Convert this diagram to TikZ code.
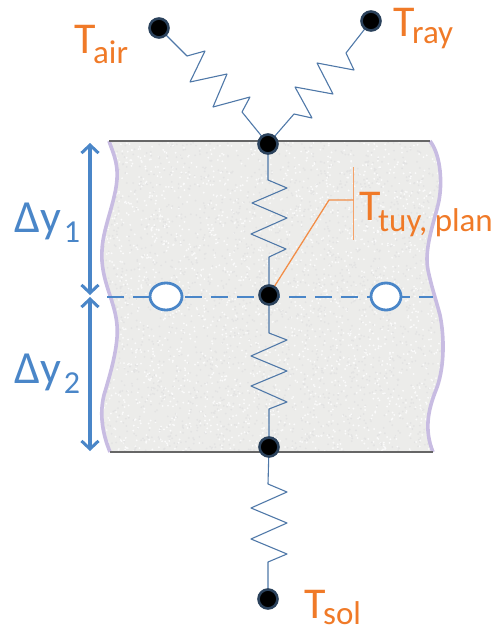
\documentclass[tikz,border=0pt]{standalone}
\usepackage{fontspec}
\setmainfont{Carlito}
\usetikzlibrary{arrows.meta,shapes.geometric}
\definecolor{orng}{HTML}{F07A28}
\definecolor{blu}{HTML}{4A86C8}
\definecolor{spr}{HTML}{4F78A8}
\definecolor{blockfill}{HTML}{ECECEA}
\definecolor{edgelav}{HTML}{C8BCE2}
\newcommand{\tsubm}[2]{\fontsize{44}{44}\selectfont T\kern-2.5pt\raisebox{-#1pt}{\fontsize{33}{33}\selectfont #2}}
\tikzset{
  nodedot/.style={circle,fill=black,draw=spr!55!black,line width=2.6pt,minimum size=19pt,inner sep=0pt},
  spring/.style={draw=spr,line width=1.1pt,line join=round},
  openpt/.style={ellipse,draw=blu,fill=white,line width=2.8pt,inner sep=0pt},
  lab/.style={anchor=base west,inner sep=0pt,text=orng},
  dlab/.style={anchor=base west,inner sep=0pt,text=blu},
  dimarrow/.style={draw=blu,line width=3.2pt,-{Straight Barb[length=8pt,width=17pt,line width=3pt]}}
}
\begin{document}
\begin{tikzpicture}[x=1pt,y=-1pt]
\useasboundingbox (0,0) rectangle (495,632);
\pgfmathsetseed{42}
\def\blockpath{(109,141) -- (430,141) .. controls (441,155) and (443,185) .. (438,205) .. controls (433,225) and (424,250) .. (428,270) .. controls (431,285) and (436,300) .. (440,315) .. controls (445,340) and (444,370) .. (436,390) .. controls (428,410) and (424,430) .. (433,452) -- (110,452) .. controls (103,435) and (99,415) .. (104,395) .. controls (110,375) and (119,345) .. (117,325) .. controls (115,300) and (100,280) .. (102,250) .. controls (103,225) and (119,195) .. (117,170) .. controls (116,158) and (112,150) .. (109,141) -- cycle}
\fill[blockfill] \blockpath;
\begin{scope}
\clip \blockpath;
\foreach \i in {1,...,4500}{
  \pgfmathsetmacro{\px}{95+rnd*355}
  \pgfmathsetmacro{\py}{141+rnd*311}
  \pgfmathsetmacro{\sh}{int(rnd*2)}
  \ifnum\sh=0
    \fill[black!11] (\px,\py) circle[radius=1pt];
  \else
    \fill[white!80!blockfill] (\px,\py) circle[radius=1pt];
  \fi
}
\end{scope}
\draw[edgelav,line width=3.6pt] (430,141) .. controls (441,155) and (443,185) .. (438,205) .. controls (433,225) and (424,250) .. (428,270) .. controls (431,285) and (436,300) .. (440,315) .. controls (445,340) and (444,370) .. (436,390) .. controls (428,410) and (424,430) .. (433,452);
\draw[edgelav,line width=3.6pt] (110,452) .. controls (103,435) and (99,415) .. (104,395) .. controls (110,375) and (119,345) .. (117,325) .. controls (115,300) and (100,280) .. (102,250) .. controls (103,225) and (119,195) .. (117,170) .. controls (116,158) and (112,150) .. (109,141);
\draw[black!60,line width=2pt] (109,141) -- (430,141);
\draw[black!60,line width=2pt] (110,452) -- (433,452);
% dashed mid-plane
\coordinate (dl) at (107,296.5);
\coordinate (dr) at (433,296.5);
\draw[blu,line width=2pt,dash pattern=on 17pt off 9pt] (dl) -- (dr);
\node[openpt,minimum width=32pt,minimum height=27pt] (cl) at (166,296.5) {};
\node[openpt,minimum width=30pt,minimum height=27pt] (cr) at (386,296.5) {};
% nodes
\coordinate (air) at (159,28);
\coordinate (ray) at (371,21);
\coordinate (top) at (268,144);
\coordinate (mid) at (269,295);
\coordinate (bot) at (269,447);
\coordinate (sol) at (268,599);
% orange pointer
\coordinate (ob) at (353.5,167);
\coordinate (oe) at (353.5,240);
\coordinate (oj) at (353.5,200);
\draw[orng!70!white,line width=1.8pt] (ob) -- (oe);
\draw[orng!85!white,line width=1.3pt] (oj) -- (329,200) -- (mid);
% springs
\draw[spring] (air) -- (187,56) -- (205,51) -- (190,82) -- (227,74) -- (213,107) -- (250,97) -- (242,112) -- (top);
\draw[spring] (ray) -- (346,53) -- (354,70) -- (317,63) -- (333,94) -- (295,87) -- (312,118) -- (294,114) -- (top);
\draw[spring] (top) -- (268,180) -- (287,188) -- (252,203) -- (287,218) -- (251,234) -- (286,249) -- (269,257) -- (mid);
\draw[spring] (mid) -- (269,333) -- (287,340) -- (251,356) -- (287,371) -- (251,386) -- (287,402) -- (269,409) -- (bot);
\draw[spring] (bot) -- (268,484) -- (287,492) -- (251,508) -- (287,523) -- (251,539) -- (287,554) -- (268,562) -- (sol);
\foreach \n in {air,ray,top,mid,bot,sol}{
  \node[nodedot] (d\n) at (\n) {};
}
% dimension arrows
\coordinate (a1) at (90,143);
\coordinate (a2) at (90,295);
\coordinate (a3) at (90,297);
\coordinate (a4) at (90,451);
\coordinate (a12) at (90,220);
\coordinate (a34) at (90,370);
\draw[dimarrow] (a12) -- (a1);
\draw[dimarrow] (a12) -- (a2);
\draw[dimarrow] (a34) -- (a3);
\draw[dimarrow] (a34) -- (a4);
% labels
\node[lab] at (74,53) {\tsubm{10}{air}};
\node[lab] at (393,36) {\tsubm{7}{ray}};
\node[lab] at (359,220) {\tsubm{11}{tuy, plan}};
\node[lab] at (304,618) {\tsubm{6}{sol}};
\node[dlab,font=\fontsize{46}{46}\selectfont] at (14,232) {Δy\kern3pt\raisebox{-10pt}{\fontsize{32}{32}\selectfont 1}};
\node[dlab,font=\fontsize{46}{46}\selectfont] at (14,383) {Δy\kern3pt\raisebox{-10pt}{\fontsize{32}{32}\selectfont 2}};
\end{tikzpicture}
\end{document}
